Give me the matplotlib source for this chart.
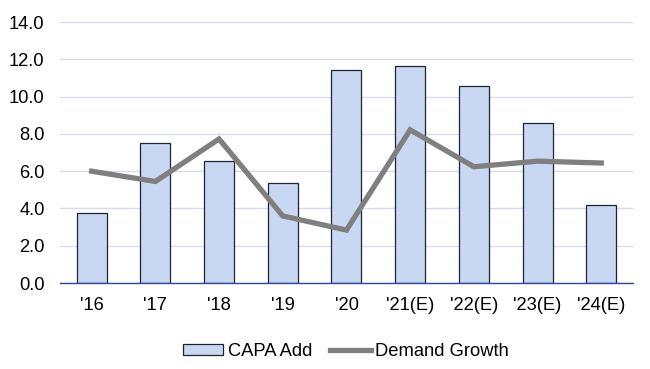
import matplotlib.pyplot as plt
import numpy as np

plt.rcParams["font.family"] = ["Liberation Sans", "DejaVu Sans"]

categories = ["'16", "'17", "'18", "'19", "'20", "'21(E)", "'22(E)", "'23(E)", "'24(E)"]
capa_add = [3.76, 7.5, 6.54, 5.36, 11.43, 11.67, 10.59, 8.6, 4.18]
demand_growth = [6.0, 5.45, 7.73, 3.6, 2.84, 8.22, 6.24, 6.54, 6.44]
yticks = [0, 2, 4, 6, 8, 10, 12, 14]

fig = plt.figure(figsize=(6.5, 3.69), dpi=100)
ax = fig.add_axes([0.092, 0.233, 0.882, 0.707])

x = np.arange(len(categories))
bars = ax.bar(x, capa_add, width=0.47, color="#c9d8f2", edgecolor="#1c2333",
              linewidth=0.9, label="CAPA Add", zorder=2)
line, = ax.plot(x, demand_growth, color="#7f7f7f", linewidth=3.8,
                solid_joinstyle="miter", label="Demand Growth", zorder=3)

ax.set_xlim(-0.5, len(categories) - 0.5)
ax.set_ylim(0, 14)
ax.set_yticks(yticks)
ax.set_yticklabels([f"{v:.1f}" for v in yticks])
ax.set_xticks(x)
ax.set_xticklabels(categories)
ax.tick_params(axis="both", length=0, labelsize=13.2, colors="black")
ax.tick_params(axis="y", pad=11)
ax.tick_params(axis="x", pad=10)

ax.grid(axis="y", color="#d6dcef", linewidth=1.0, zorder=0)
ax.set_axisbelow(True)
for side in ["top", "right", "left"]:
    ax.spines[side].set_visible(False)
ax.spines["bottom"].set_color("#2f4a9a")
ax.spines["bottom"].set_linewidth(1.0)

fig.legend([bars, line], ["CAPA Add", "Demand Growth"],
           loc="lower center", bbox_to_anchor=(0.532, -0.02), ncol=2, frameon=False,
           fontsize=13.2, handlelength=2.2, handletextpad=0.25, columnspacing=1.0,
           handleheight=0.5)

fig.savefig("out.png", dpi=100)
